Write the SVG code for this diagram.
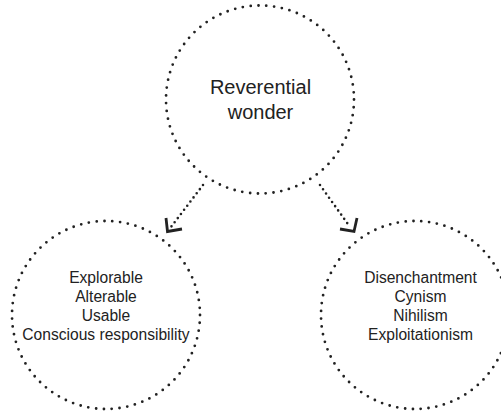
<svg xmlns="http://www.w3.org/2000/svg" width="501" height="411" viewBox="0 0 501 411">
  <style>
    .ring { fill: none; stroke: #222; stroke-width: 2.8; stroke-linecap: round; stroke-dasharray: 0 7.87; }
    .link { fill: none; stroke: #222; stroke-width: 2.6; stroke-linecap: round; stroke-dasharray: 0 5.2; }
    .head { fill: none; stroke: #222; stroke-width: 2.8; stroke-linecap: butt; stroke-linejoin: miter; }
    .big { font-family: "Liberation Sans", Arial, sans-serif; font-size: 20px; fill: #222; text-anchor: middle; }
    .small { font-family: "Liberation Sans", Arial, sans-serif; font-size: 15.6px; fill: #222; text-anchor: middle; }
  </style>
  <rect width="501" height="411" fill="#fff"/>

  <g id="wonder">
    <circle class="ring" cx="260" cy="99.5" r="94"/>
    <text class="big" x="260.5" y="94">Reverential</text>
    <text class="big" x="260.5" y="119">wonder</text>
  </g>

  <g id="engaged">
    <circle class="ring" cx="106" cy="315" r="94"/>
    <text class="small" x="106" y="283">Explorable</text>
    <text class="small" x="106" y="302">Alterable</text>
    <text class="small" x="106" y="321">Usable</text>
    <text class="small" x="106" y="340">Conscious responsibility</text>
  </g>

  <g id="disengaged">
    <circle class="ring" cx="415" cy="315" r="94"/>
    <text class="small" x="420.5" y="283">Disenchantment</text>
    <text class="small" x="420.5" y="302">Cynism</text>
    <text class="small" x="420.5" y="321">Nihilism</text>
    <text class="small" x="420.5" y="340">Exploitationism</text>
  </g>

  <g id="connectors">
    <line class="link" x1="203" y1="185" x2="171" y2="227"/>
    <polyline class="head" points="166,218 167.5,231.5 182,229"/>
    <line class="link" x1="320" y1="185" x2="350" y2="227"/>
    <polyline class="head" points="357,218 354,231.5 340,229"/>
  </g>
</svg>
